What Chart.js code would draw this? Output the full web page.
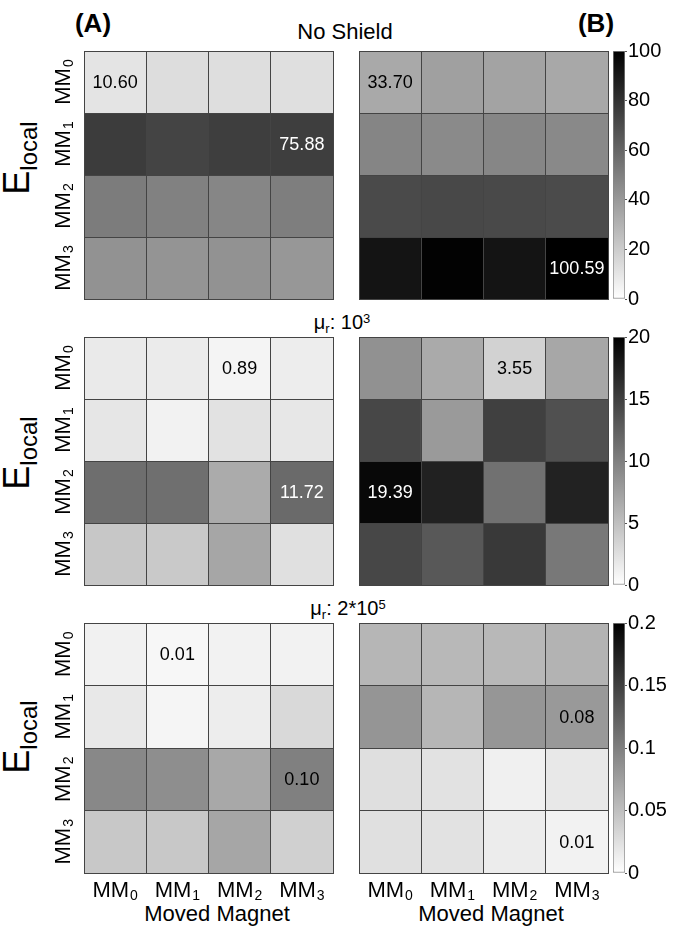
<!DOCTYPE html>
<html>
<head>
<meta charset="utf-8">
<script src="https://cdn.jsdelivr.net/npm/chart.js@4.4.1/dist/chart.umd.min.js"></script>
<style>
body { margin: 0; background: #fff; }
#fig { position: relative; width: 675px; height: 927px; overflow: hidden; font-family: "Liberation Sans", Arial, sans-serif; color: #000; }
#fig canvas { position: absolute; }
.lbl { position: absolute; transform: translate(-50%, -50%); white-space: nowrap; line-height: 1; }
.ylab { position: absolute; transform: translate(-50%, -50%) rotate(-90deg); white-space: nowrap; font-size: 36px; line-height: 36px; }
.sub { font-size: 0.65em; position: relative; top: 0.3em; }
.sup { font-size: 0.65em; position: relative; top: -0.5em; }
</style>
</head>
<body>
<div id="fig">
  <div class="lbl" style="left:93px;top:23px;font-size:26px;font-weight:bold">(A)</div>
  <div class="lbl" style="left:596px;top:23px;font-size:26px;font-weight:bold">(B)</div>
  <div class="lbl" style="left:345px;top:32px;font-size:22px">No Shield</div>
  <div class="lbl" style="left:342px;top:322px;font-size:20px">μ<span class="sub">r</span>: 10<span class="sup">3</span></div>
  <div class="lbl" style="left:348px;top:608px;font-size:20px">μ<span class="sub">r</span>: 2*10<span class="sup">5</span></div>
  <div class="ylab" style="left:19px;top:158px">E<span style="font-size:24px;position:relative;top:8px">local</span></div>
  <div class="ylab" style="left:19px;top:453px">E<span style="font-size:24px;position:relative;top:8px">local</span></div>
  <div class="ylab" style="left:19px;top:737px">E<span style="font-size:24px;position:relative;top:8px">local</span></div>
  <div class="lbl" style="left:217px;top:914px;font-size:22px">Moved Magnet</div>
  <div class="lbl" style="left:491px;top:914px;font-size:22px">Moved Magnet</div>
</div>
<script>
const FONT = '"Liberation Sans", Arial, sans-serif';

// magnets, both axes
const magnets = ["MM0", "MM1", "MM2", "MM3"];

// rows = E_local magnet, columns = moved magnet
const noShieldA = [
    [10.60, 13.2, 12.8, 12.6],
    [76.6, 73.4, 75.6, 75.88],
    [51.2, 49.6, 47.4, 50.5],
    [42.8, 42.0, 42.6, 40.6]
];
const noShieldB = [
    [33.70, 37.4, 36.0, 34.2],
    [47.8, 45.9, 47.4, 46.3],
    [71.0, 71.8, 71.2, 70.6],
    [92.3, 99.2, 92.0, 100.59]
];
const mu1e3A = [
    [1.62, 1.58, 0.89, 1.45],
    [2.0, 1.02, 2.3, 1.9],
    [11.4, 11.3, 6.6, 11.72],
    [4.4, 4.2, 7.0, 2.4]
];
const mu1e3B = [
    [8.6, 6.7, 3.55, 6.9],
    [14.4, 7.9, 15.0, 13.7],
    [19.39, 17.4, 11.1, 17.3],
    [14.4, 13.1, 15.5, 10.6]
];
const mu2e5A = [
    [0.011, 0.0064, 0.010, 0.010],
    [0.018, 0.008, 0.014, 0.030],
    [0.093, 0.089, 0.068, 0.100],
    [0.043, 0.043, 0.070, 0.037]
];
const mu2e5B = [
    [0.057, 0.056, 0.056, 0.060],
    [0.083, 0.057, 0.082, 0.080],
    [0.025, 0.023, 0.012, 0.018],
    [0.024, 0.023, 0.015, 0.0105]
];

// cells that carry their value as text: [row, col]
const notesNoShieldA = [[0, 0], [1, 3]];
const notesNoShieldB = [[0, 0], [3, 3]];
const notesMu1e3A = [[0, 2], [2, 3]];
const notesMu1e3B = [[0, 2], [2, 0]];
const notesMu2e5A = [[0, 1], [2, 3]];
const notesMu2e5B = [[1, 3], [3, 3]];

// colour bar ticks
const barTicks1 = [0, 20, 40, 60, 80, 100];
const barTicks2 = [0, 5, 10, 15, 20];
const barTicks3 = [0, 0.05, 0.1, 0.15, 0.2];

// plot rows (pixel top / bottom)
const rows = [{ top: 51, bottom: 299 }, { top: 337, bottom: 585 }, { top: 623, bottom: 873 }];

function shade(v, max) {
    let g = Math.round(255 * (1 - Math.min(v / max, 1)));
    return "rgb(" + g + "," + g + "," + g + ")";
}

function makeCanvas(left, top, w, h) {
    let c = document.createElement("canvas");
    c.width = w;
    c.height = h;
    c.style.left = left + "px";
    c.style.top = top + "px";
    document.getElementById("fig").appendChild(c);
    return c;
}

// "MM" with a lowered small digit, centred on cx, cap middle at cy
function drawMagnetLabel(ctx, label, cx, cy) {
    let base = label.slice(0, -1), sub = label.slice(-1);
    ctx.font = "22px " + FONT;
    let wb = ctx.measureText(base).width;
    ctx.font = "14px " + FONT;
    let ws = ctx.measureText(sub).width;
    let x0 = cx - (wb + ws + 1) / 2;
    ctx.textAlign = "left";
    ctx.textBaseline = "alphabetic";
    ctx.font = "22px " + FONT;
    ctx.fillText(base, x0, cy + 8);
    ctx.font = "14px " + FONT;
    ctx.fillText(sub, x0 + wb + 1, cy + 11);
}

function textPlugin(values, max, notes, rowLabels, colLabels) {
    return {
        id: "cellText",
        afterDraw(chart) {
            let ctx = chart.ctx, x = chart.scales.x, y = chart.scales.y;
            ctx.save();
            ctx.font = "18px " + FONT;
            ctx.textAlign = "center";
            ctx.textBaseline = "middle";
            notes.forEach(([r, c]) => {
                let v = values[r][c];
                ctx.fillStyle = v / max > 0.55 ? "#fff" : "#000";
                ctx.fillText(v.toFixed(2), x.getPixelForValue(c), y.getPixelForValue(r + 0.5) + 1);
            });
            ctx.fillStyle = "#000";
            if (rowLabels) {
                magnets.forEach((m, i) => {
                    ctx.save();
                    ctx.translate(x.left - 22, y.getPixelForValue(i + 0.5));
                    ctx.rotate(-Math.PI / 2);
                    drawMagnetLabel(ctx, m, 0, 0);
                    ctx.restore();
                });
            }
            if (colLabels) {
                magnets.forEach((m, i) => {
                    drawMagnetLabel(ctx, m, x.getPixelForValue(i), y.bottom + 16);
                });
            }
            ctx.restore();
        }
    };
}

function heatmap(values, max, notes, row, plotLeft, plotRight, canvasLeft, canvasWidth, rowLabels, colLabels) {
    let top = row.top - 10;
    let bottom = colLabels ? 927 : row.bottom + 10;
    let canvas = makeCanvas(canvasLeft, top, canvasWidth, bottom - top);
    new Chart(canvas, {
        type: "bar",
        data: {
            labels: magnets,
            datasets: values.map((vals, r) => ({
                data: vals.map(() => [r, r + 1]),
                backgroundColor: vals.map(v => shade(v, max)),
                borderWidth: 0,
                grouped: false,
                barPercentage: 1,
                categoryPercentage: 1
            }))
        },
        options: {
            responsive: false,
            animation: false,
            events: [],
            layout: {
                padding: {
                    left: plotLeft - canvasLeft,
                    right: canvasLeft + canvasWidth - plotRight,
                    top: row.top - top,
                    bottom: bottom - row.bottom
                }
            },
            plugins: { legend: { display: false }, tooltip: { enabled: false } },
            scales: {
                x: {
                    offset: true,
                    afterFit: s => { s.height = 0; },
                    grid: { offset: true, color: "#444", lineWidth: 1, drawTicks: false, z: 1 },
                    border: { display: true, color: "#444", z: 1 },
                    ticks: { display: false }
                },
                y: {
                    min: 0,
                    max: 4,
                    reverse: true,
                    afterFit: s => { s.width = 0; },
                    grid: { color: "#444", lineWidth: 1, drawTicks: false, z: 1 },
                    border: { display: true, color: "#444", z: 1 },
                    ticks: { display: false, stepSize: 1 }
                }
            }
        },
        plugins: [textPlugin(values, max, notes, rowLabels, colLabels)]
    });
}

function colorBar(max, ticks, row) {
    let top = row.top - 15;
    let canvas = makeCanvas(600, top, 75, row.bottom - row.top + 30);
    new Chart(canvas, {
        type: "bar",
        data: {
            labels: [""],
            datasets: [{
                data: [[0, max]],
                backgroundColor: function (c) {
                    let a = c.chart.chartArea;
                    if (!a) return "#888";
                    let g = c.chart.ctx.createLinearGradient(0, a.bottom, 0, a.top);
                    g.addColorStop(0, "#fff");
                    g.addColorStop(1, "#000");
                    return g;
                },
                borderColor: "#888",
                borderWidth: 1,
                borderSkipped: false,
                barPercentage: 1,
                categoryPercentage: 1
            }]
        },
        options: {
            responsive: false,
            animation: false,
            events: [],
            layout: { padding: { left: 13, right: 0, top: 15, bottom: 15 } },
            plugins: { legend: { display: false }, tooltip: { enabled: false } },
            scales: {
                x: { display: false },
                y: {
                    position: "right",
                    min: 0,
                    max: max,
                    afterFit: s => { s.width = 50; },
                    afterBuildTicks: s => { s.ticks = ticks.map(v => ({ value: v })); },
                    grid: { display: true, drawOnChartArea: false, drawTicks: true, tickLength: 2, color: "#555" },
                    border: { display: false },
                    ticks: {
                        padding: 1,
                        color: "#000",
                        font: { size: 20, family: FONT },
                        callback: v => String(v)
                    }
                }
            }
        }
    });
}

heatmap(noShieldA, 100, notesNoShieldA, rows[0], 84, 333, 40, 300, true, false);
heatmap(noShieldB, 100, notesNoShieldB, rows[0], 359, 608, 345, 265, false, false);
colorBar(100, barTicks1, rows[0]);

heatmap(mu1e3A, 20, notesMu1e3A, rows[1], 84, 333, 40, 300, true, false);
heatmap(mu1e3B, 20, notesMu1e3B, rows[1], 359, 608, 345, 265, false, false);
colorBar(20, barTicks2, rows[1]);

heatmap(mu2e5A, 0.2, notesMu2e5A, rows[2], 84, 333, 40, 300, true, true);
heatmap(mu2e5B, 0.2, notesMu2e5B, rows[2], 359, 608, 345, 265, false, true);
colorBar(0.2, barTicks3, rows[2]);
</script>
</body>
</html>
